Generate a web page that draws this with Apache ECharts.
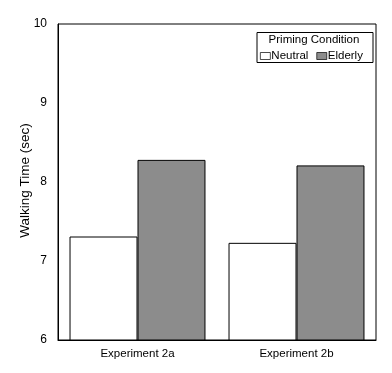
<!DOCTYPE html>
<html>
<head>
<meta charset="utf-8">
<script src="https://cdn.jsdelivr.net/npm/echarts@6/dist/echarts.min.js"></script>
<style>
html,body{margin:0;padding:0;background:#fff;}
#chart{width:392px;height:373px;}
</style>
</head>
<body>
<div id="chart"></div>
<script>
var categories = ['Experiment 2a', 'Experiment 2b'];
var neutralValues = [7.31, 7.23];
var elderlyValues = [8.28, 8.21];
var seriesNames = ['Neutral', 'Elderly'];
var yTicks = [6, 7, 8, 9, 10];
var legendTitle = 'Priming Condition';
var yAxisName = 'Walking Time (sec)';

var FONT = 'Liberation Sans, Arial, Helvetica, sans-serif';
var chart = echarts.init(document.getElementById('chart'), null, {renderer: 'canvas'});
chart.setOption({
  animation: false,
  backgroundColor: '#fff',
  textStyle: {fontFamily: FONT, color: '#000'},
  grid: {left: 58, top: 24, right: 16, bottom: 33, show: true, borderColor: '#000', borderWidth: 1, backgroundColor: 'transparent'},
  xAxis: {
    type: 'category',
    data: categories,
    axisLine: {lineStyle: {color: '#000', width: 1}},
    axisTick: {show: false},
    axisLabel: {color: '#000', fontSize: 11.5, fontFamily: FONT, margin: 8}
  },
  yAxis: {
    type: 'value',
    min: yTicks[0],
    max: yTicks[yTicks.length - 1],
    interval: 1,
    name: yAxisName,
    nameLocation: 'middle',
    nameRotate: 90,
    nameGap: 26,
    nameMoveOverlap: false,
    nameTextStyle: {color: '#000', fontSize: 13.5, fontFamily: FONT, padding: [0, 0, 0, 3]},
    axisLine: {show: true, lineStyle: {color: '#000', width: 1}},
    axisTick: {show: false},
    splitLine: {show: false},
    axisLabel: {color: '#000', fontSize: 12, fontFamily: FONT, margin: 11}
  },
  legend: {
    data: seriesNames,
    left: 260,
    top: 50,
    itemWidth: 10,
    itemHeight: 7,
    itemGap: 8,
    padding: 0,
    icon: 'rect',
    itemStyle: {borderWidth: 0.7},
    textStyle: {color: '#000', fontSize: 11.5, fontFamily: FONT, padding: [0, 0, 0, -4]}
  },
  graphic: [
    {type: 'rect', shape: {x: 257, y: 32.5, width: 116, height: 30}, style: {fill: '#fff', stroke: '#000', lineWidth: 1}, z: 0},
    {type: 'text', x: 314, y: 40, style: {text: legendTitle, fill: '#000', font: '11.5px ' + FONT, textAlign: 'center', textVerticalAlign: 'middle'}, z: 10}
  ],
  series: [
    {
      name: seriesNames[0], type: 'bar', data: neutralValues,
      barGap: '0%', barCategoryGap: '14.5%',
      itemStyle: {color: '#ffffff', borderColor: '#000', borderWidth: 1}
    },
    {
      name: seriesNames[1], type: 'bar', data: elderlyValues,
      barGap: '0%', barCategoryGap: '14.5%',
      itemStyle: {color: '#8c8c8c', borderColor: '#000', borderWidth: 1}
    }
  ]
});
</script>
</body>
</html>
